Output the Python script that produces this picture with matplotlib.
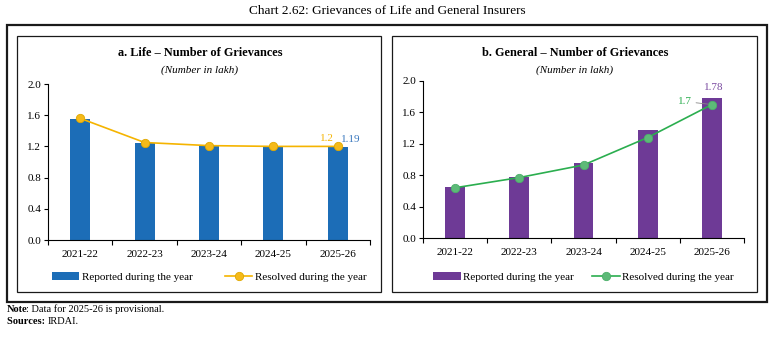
import matplotlib.pyplot as plt
from matplotlib.patches import Rectangle

plt.rcParams['font.family'] = ['Liberation Serif', 'DejaVu Serif']

years = ['2021-22', '2022-23', '2023-24', '2024-25', '2025-26']
life_reported = [1.55, 1.24, 1.21, 1.20, 1.19]
life_resolved = [1.56, 1.25, 1.21, 1.20, 1.20]
gen_reported = [0.65, 0.78, 0.95, 1.37, 1.78]
gen_resolved = [0.64, 0.77, 0.93, 1.28, 1.70]
yticks = [0.0, 0.4, 0.8, 1.2, 1.6, 2.0]

W, H = 775, 337
fig = plt.figure(figsize=(W / 100, H / 100), dpi=100)


def fx(px):
    return px / W


def fy(py):
    return 1 - py / H


# frames
fig.patches.append(Rectangle((fx(7), fy(302)), fx(760), (302 - 25) / H, transform=fig.transFigure,
                             fill=False, lw=1.6, ec='#1a1a1a'))
fig.patches.append(Rectangle((fx(17), fy(292)), fx(364), (292 - 36) / H, transform=fig.transFigure,
                             fill=False, lw=0.9, ec='#1a1a1a'))
fig.patches.append(Rectangle((fx(392), fy(292)), fx(365), (292 - 36) / H, transform=fig.transFigure,
                             fill=False, lw=0.9, ec='#1a1a1a'))

fig.text(0.5, fy(11), 'Chart 2.62: Grievances of Life and General Insurers', ha='center', va='center',
         fontsize=9.5)


def panel(rect, y0, rep, res, bar_c, line_c, mfc, mec, title, cx, colspace):
    ax = fig.add_axes(rect)
    x = range(len(years))
    b = ax.bar(x, rep, width=0.31, color=bar_c, label='Reported during the year', zorder=2)
    l, = ax.plot(x, res, color=line_c, lw=1.2, marker='o', ms=6, mfc=mfc, mec=mec, mew=0.6,
                 label='Resolved during the year', zorder=3)
    ax.set_xlim(-0.5, 4.5)
    ax.set_ylim(0, 2.0)
    ax.set_yticks(yticks)
    ax.set_yticklabels([f'{v:.1f}' for v in yticks])
    ax.set_xticks([i - 0.5 for i in range(6)])
    ax.set_xticklabels([])
    ax.set_xticks(list(x), minor=True)
    ax.set_xticklabels(years, minor=True)
    ax.tick_params(axis='x', which='minor', length=0, pad=7, labelsize=8)
    ax.tick_params(axis='x', which='major', length=3.5, width=0.8)
    ax.tick_params(axis='y', length=3, width=0.8, labelsize=8, pad=2)
    for s in ['top', 'right']:
        ax.spines[s].set_visible(False)
    for s in ['left', 'bottom']:
        ax.spines[s].set_linewidth(0.8)
    fig.text(fx(cx), fy(53), title, ha='center', va='center', fontsize=8.8, fontweight='bold')
    fig.text(fx(cx), fy(70), '(Number in lakh)', ha='center', va='center', fontsize=8, style='italic')
    h = rect[3] * H
    ax.legend([b, l], [b.get_label(), l.get_label()], loc='center', bbox_to_anchor=(0.5, (y0 - 277) / h),
              ncol=2, frameon=False, fontsize=8, handlelength=2.5, columnspacing=colspace,
              handletextpad=0.2)
    return ax


ax1 = panel([fx(48), fy(240), fx(322), 156 / H], 240, life_reported, life_resolved,
            '#1c6db7', '#f5b400', '#f5ba1a', '#e0a800', 'a. Life \u2013 Number of Grievances', 200, 2.9)
ax1.annotate(f'{life_resolved[-1]:g}', (4, life_resolved[-1]), xytext=(-11, 8), textcoords='offset pixels',
             ha='center', va='center', fontsize=8, color='#f5b400')
ax1.annotate(f'{life_reported[-1]:g}', (4, life_reported[-1]), xytext=(13, 8), textcoords='offset pixels',
             ha='center', va='center', fontsize=8, color='#3a78be')

ax2 = panel([fx(423), fy(238), fx(321), 157 / H], 238, gen_reported, gen_resolved,
            '#6e3a96', '#2bae4f', '#5dba78', '#4cb06a', 'b. General \u2013 Number of Grievances', 575, 1.6)
ax2.annotate(f'{gen_reported[-1]:g}', (4, gen_reported[-1]), xytext=(2, 11), textcoords='offset pixels',
             ha='center', va='center', fontsize=8, color='#7a4aa0')
ax2.annotate(f'{gen_resolved[-1]:g}', (4, gen_resolved[-1]), xytext=(-27, 3), textcoords='offset pixels',
             ha='center', va='center', fontsize=8, color='#2bae4f',
             arrowprops=dict(arrowstyle='-', color='#888888', lw=0.6, shrinkA=1, shrinkB=3))

# notes
n1 = fig.text(fx(7), fy(309), 'Note', ha='left', va='center', fontsize=7.5, fontweight='bold')
fig.add_artist(plt.Annotation(': Data for 2025-26 is provisional.', xy=(1, 0.5), xycoords=n1,
                              xytext=(-2, 0), textcoords='offset pixels',
                              va='center', ha='left', fontsize=7.5))
n2 = fig.text(fx(7), fy(322), 'Sources: ', ha='left', va='center', fontsize=7.5, fontweight='bold')
fig.add_artist(plt.Annotation('IRDAI.', xy=(1, 0.5), xycoords=n2, va='center', ha='left', fontsize=7.5))

fig.savefig('out.png', dpi=100)
